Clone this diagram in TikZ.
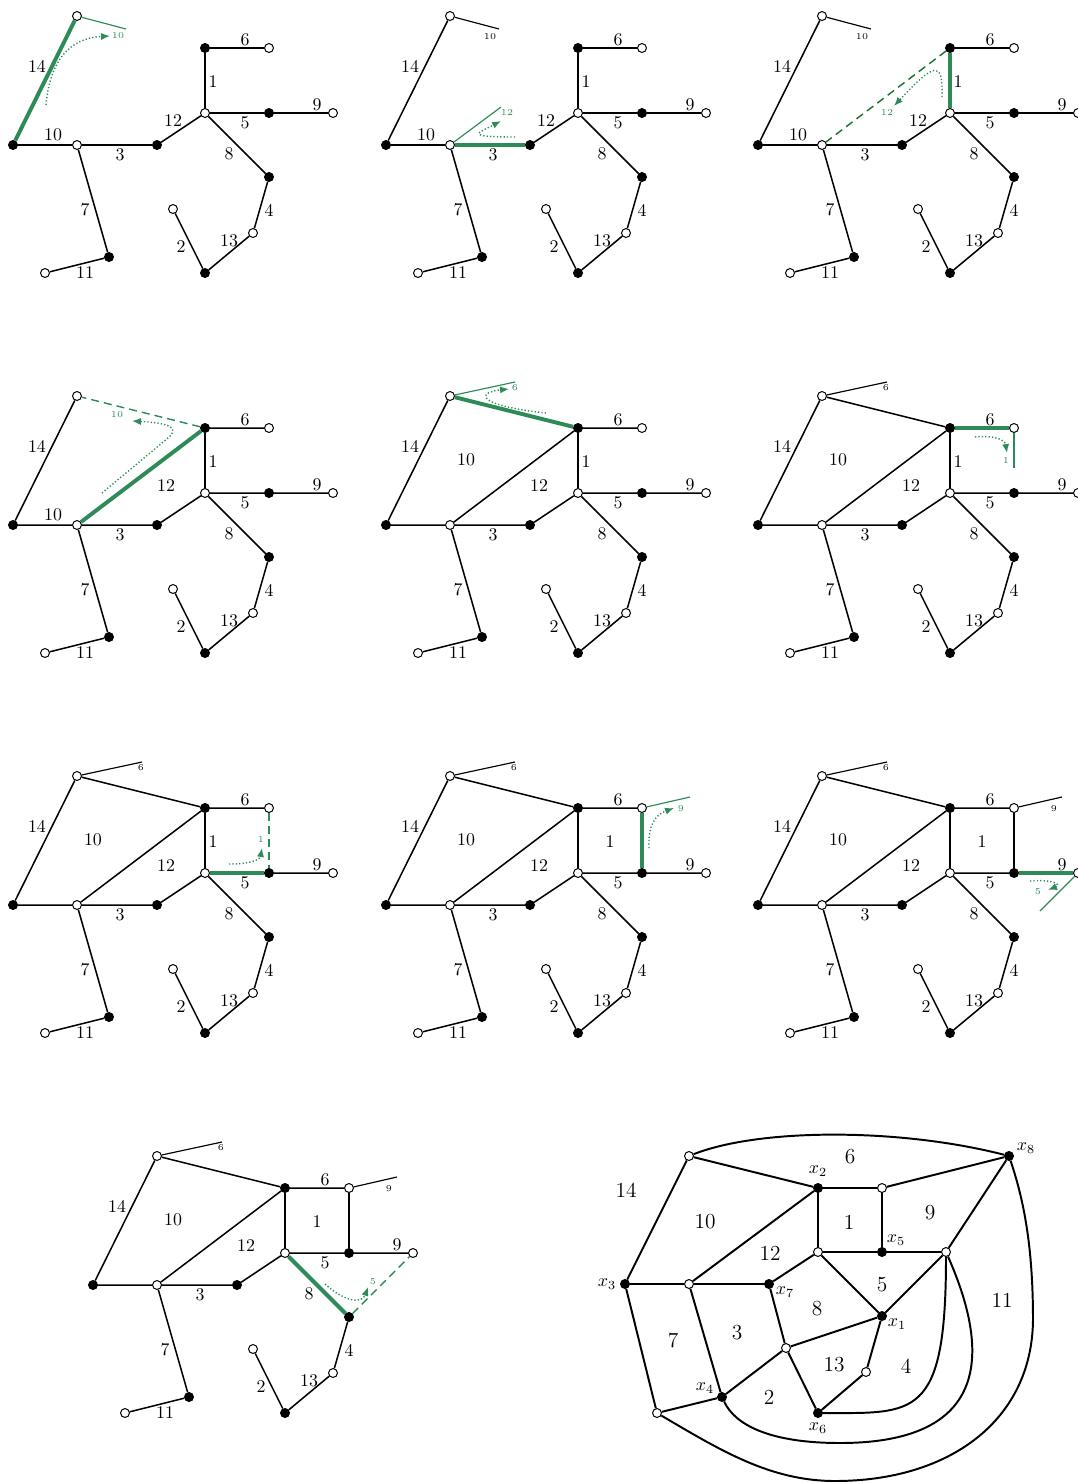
\documentclass[tikz,border=0pt]{standalone}
\usetikzlibrary{arrows.meta}
\definecolor{sg}{RGB}{46,139,87}
\definecolor{dg}{RGB}{25,115,45}
\newcommand\placetree{%
 \node[wn] (A) at (77,16) {};
 \node[bn] (B) at (13,145) {};
 \node[wn] (C) at (77,145) {};
 \node[bn] (D) at (157,145) {};
 \node[wn] (E) at (205,113) {};
 \node[bn] (F) at (205,48) {};
 \node[wn] (G) at (269,48) {};
 \node[bn] (H) at (269,113) {};
 \node[wn] (I) at (333,113) {};
 \node[bn] (J) at (269,177) {};
 \node[wn] (K) at (253,233) {};
 \node[bn] (L) at (205,273) {};
 \node[wn] (M) at (173,209) {};
 \node[bn] (N) at (109,257) {};
 \node[wn] (O) at (45,273) {};
 \draw[ed] (B)--(C) (D)--(E) (J)--(K) (K)--(L) (L)--(M) (C)--(N) (N)--(O);
}
\newcommand\lab[3]{\node[el] (l#3) at (#1,#2) {#3};}
\newcommand\commonlabels{\lab{37}{66}{14}\lab{120}{155}{3}\lab{245}{123}{5}\lab{317}{105}{9}%
 \lab{229}{154}{8}\lab{269}{210}{4}\lab{229}{241}{13}\lab{181}{247}{2}\lab{85}{210}{7}%
 \lab{85}{273}{11}\lab{245}{40}{6}}
\newcommand\edgeten{\lab{53}{135}{10}}
\newcommand\faceten{\lab{93}{80}{10}}
\newcommand\edgetwelve{\lab{173}{121}{12}}
\newcommand\facetwelve{\lab{166}{106}{12}}
\newcommand\edgeone{\lab{213}{82}{1}}
\newcommand\faceone{\lab{237}{82}{1}}
\newcommand\halfsix{\coordinate (h6) at (142,2); \draw[half] (A)--(h6); \node[tl] (t6) at (141,8) {6};}
\newcommand\halfnine{\coordinate (h9) at (317,37); \draw[half] (G)--(h9); \node[tl] (t9) at (309,49) {9};}
\begin{document}
\begin{tikzpicture}[x=0.56pt,y=-0.56pt,
 wn/.style={circle,draw,fill=white,inner sep=0pt,minimum size=5pt,line width=0.55pt},
 bn/.style={circle,draw,fill=black,inner sep=0pt,minimum size=5pt,line width=0.55pt},
 ed/.style={line width=0.85pt},
 hl/.style={line width=2.2pt,draw=sg},
 half/.style={line width=0.65pt},
 dsh/.style={line width=0.8pt,dash pattern=on 4.5pt off 2.8pt},
 mv/.style={color=sg,line width=0.8pt,dash pattern=on 0.7pt off 1.2pt,-{Latex[length=5pt,width=4pt]}},
 el/.style={inner sep=0pt,font=\normalsize},
 tl/.style={inner sep=0pt,font=\tiny},
 fl/.style={inner sep=0pt,font=\large},
 gl/.style={line width=1.1pt},
 ml/.style={inner sep=0pt,font=\normalsize},
]
\useasboundingbox (0,0) rectangle (1078,1482);

% ---- panel 1
\begin{scope}[shift={(0,0)},name prefix=a-]
 \placetree
 \draw[ed] (C)--(D) (F)--(E) (F)--(G) (E)--(H) (H)--(I) (E)--(J);
 \draw[hl] (A)--(B);
 \coordinate (h) at (126,29);
 \draw[half,sg] (A)--(h);
 \draw[mv] (46,105) .. controls (50,60) and (70,38) .. (110,36);
 \node[tl,sg] (t10) at (118,36) {10};
 \commonlabels\edgeten\edgetwelve\edgeone
\end{scope}

% ---- panel 2
\begin{scope}[shift={(373,0)},name prefix=b-]
 \placetree
 \draw[ed] (A)--(B) (F)--(E) (F)--(G) (E)--(H) (H)--(I) (E)--(J);
 \draw[hl] (C)--(D);
 \coordinate (h) at (126,29);
 \draw[half] (A)--(h);
 \node[tl] (t10) at (117,37) {10};
 \coordinate (h2) at (128,107);
 \draw[half,sg] (C)--(h2);
 \node[tl,sg] (t12) at (134,113) {12};
 \draw[mv] (142,137) .. controls (90,137) and (105,133) .. (128,121);
 \commonlabels\edgeten\edgetwelve\edgeone
\end{scope}

% ---- panel 3
\begin{scope}[shift={(745,0)},name prefix=c-]
 \placetree
 \draw[ed] (A)--(B) (C)--(D) (F)--(G) (E)--(H) (H)--(I) (E)--(J);
 \draw[hl] (F)--(E);
 \coordinate (h) at (126,29);
 \draw[half] (A)--(h);
 \node[tl] (t10) at (117,37) {10};
 \draw[dsh,dg] (F)--(C);
 \draw[mv] (197,97) .. controls (198,60) and (190,62) .. (149,106);
 \node[tl,sg] (t12) at (142,113) {12};
 \commonlabels\edgeten\edgetwelve\edgeone
\end{scope}

% ---- panel 4
\begin{scope}[shift={(0,380)},name prefix=d-]
 \placetree
 \draw[ed] (A)--(B) (C)--(D) (F)--(E) (F)--(G) (E)--(H) (H)--(I) (E)--(J);
 \draw[hl] (C)--(F);
 \draw[dsh,sg] (F)--(A);
 \draw[mv] (102,113) -- (168,58) .. controls (180,48) and (170,43) .. (132,41);
 \node[tl,sg] (t10) at (117,35) {10};
 \commonlabels\edgeten\facetwelve\edgeone
\end{scope}

% ---- panel 5
\begin{scope}[shift={(373,380)},name prefix=e-]
 \placetree
 \draw[ed] (A)--(B) (C)--(D) (F)--(E) (F)--(G) (E)--(H) (H)--(I) (E)--(J) (C)--(F);
 \draw[hl] (A)--(F);
 \coordinate (h6) at (142,2);
 \draw[half,sg] (A)--(h6);
 \node[tl,sg] (t6) at (142,8) {6};
 \draw[mv] (173,33) .. controls (100,25) and (105,12) .. (136,9);
 \commonlabels\faceten\facetwelve\edgeone
\end{scope}

% ---- panel 6
\begin{scope}[shift={(745,380)},name prefix=f-]
 \placetree
 \draw[ed] (A)--(B) (C)--(D) (F)--(E) (E)--(H) (H)--(I) (E)--(J) (C)--(F) (A)--(F);
 \draw[hl] (F)--(G);
 \halfsix
 \coordinate (g1) at (269,88);
 \draw[half,sg] (G)--(g1);
 \node[tl,sg] (t1) at (261,81) {1};
 \draw[mv] (230,57) .. controls (250,55) and (260,60) .. (262,73);
 \commonlabels\faceten\facetwelve\edgeone
\end{scope}

% ---- panel 7
\begin{scope}[shift={(0,760)},name prefix=g-]
 \placetree
 \draw[ed] (A)--(B) (C)--(D) (F)--(E) (F)--(G) (H)--(I) (E)--(J) (C)--(F) (A)--(F);
 \draw[hl] (E)--(H);
 \halfsix
 \draw[dsh,sg] (G)--(H);
 \draw[mv] (229,104) .. controls (250,104) and (260,100) .. (262,88);
 \node[tl,sg] (t1) at (261,80) {1};
 \commonlabels\faceten\facetwelve\edgeone
\end{scope}

% ---- panel 8
\begin{scope}[shift={(373,760)},name prefix=h-]
 \placetree
 \draw[ed] (A)--(B) (C)--(D) (F)--(E) (F)--(G) (E)--(H) (H)--(I) (E)--(J) (C)--(F) (A)--(F);
 \draw[hl] (G)--(H);
 \halfsix
 \coordinate (h9) at (317,37);
 \draw[half,sg] (G)--(h9);
 \node[tl,sg] (t9) at (308,49) {9};
 \draw[mv] (276,88) .. controls (275,65) and (282,55) .. (301,48);
 \commonlabels\faceten\facetwelve\faceone
\end{scope}

% ---- panel 9
\begin{scope}[shift={(745,760)},name prefix=i-]
 \placetree
 \draw[ed] (A)--(B) (C)--(D) (F)--(E) (F)--(G) (E)--(H) (G)--(H) (E)--(J) (C)--(F) (A)--(F);
 \draw[hl] (H)--(I);
 \halfsix\halfnine
 \coordinate (h5) at (295,151);
 \draw[half,sg] (I)--(h5);
 \node[tl,sg] (t5) at (293,132) {5};
 \draw[mv] (285,121) .. controls (305,119) and (318,124) .. (303,130);
 \commonlabels\faceten\facetwelve\faceone
\end{scope}

% ---- panel 10
\begin{scope}[shift={(80,1140)},name prefix=j-]
 \placetree
 \draw[ed] (A)--(B) (C)--(D) (F)--(E) (F)--(G) (E)--(H) (G)--(H) (H)--(I) (C)--(F) (A)--(F);
 \draw[hl] (E)--(J);
 \halfsix\halfnine
 \draw[dsh,sg] (J)--(I);
 \draw[mv] (245,144) .. controls (265,162) and (282,164) .. (288,147);
 \node[tl,sg] (t5) at (293,142) {5};
 \commonlabels\faceten\facetwelve\faceone
\end{scope}

% ---- final graph
\begin{scope}[name prefix=k-]
 \node[wn] (P) at (689,1156) {};
 \node[bn] (x8) at (1009,1156) {};
 \node[bn] (x2) at (818,1188) {};
 \node[wn] (Q) at (882,1188) {};
 \node[wn] (R) at (818,1252) {};
 \node[bn] (x5) at (882,1252) {};
 \node[wn] (S) at (946,1252) {};
 \node[bn] (x3) at (625,1284) {};
 \node[wn] (T) at (689,1284) {};
 \node[bn] (x7) at (769,1284) {};
 \node[bn] (x1) at (882,1316) {};
 \node[wn] (U) at (786,1348) {};
 \node[wn] (V) at (866,1372) {};
 \node[bn] (x4) at (722,1397) {};
 \node[wn] (W) at (657,1413) {};
 \node[bn] (x6) at (818,1413) {};
 \draw[gl] (P)--(x2) (x2)--(Q) (Q)--(x8) (P)--(x3) (x2)--(R) (Q)--(x5)
   (R)--(x5) (x5)--(S) (S)--(x8) (x2)--(T) (x3)--(T) (T)--(x7) (x7)--(R)
   (R)--(x1) (S)--(x1) (x7)--(U) (U)--(x1) (U)--(x4) (U)--(x6) (x1)--(V)
   (V)--(x6) (x3)--(W) (T)--(x4) (W)--(x4);
 \draw[gl] (P) .. controls (760,1128) and (900,1128) .. (x8);
 \draw[gl] (S) .. controls (946,1420) and (915,1413) .. (x6);
 \coordinate (m1) at (840,1443);
 \draw[gl] (S) .. controls (985,1340) and (1000,1443) .. (m1)
   .. controls (770,1443) and (735,1425) .. (x4);
 \coordinate (m2) at (835,1481);
 \coordinate (m3) at (1033,1320);
 \draw[gl] (W) .. controls (720,1450) and (770,1481) .. (m2)
   .. controls (950,1481) and (1032,1420) .. (m3)
   .. controls (1033,1240) and (1022,1195) .. (x8);
 \node[fl] (f6) at (850,1157) {6};
 \node[fl] (f14) at (626,1190) {14};
 \node[fl] (f10) at (705,1222) {10};
 \node[fl] (f1) at (849,1222) {1};
 \node[fl] (f9) at (930,1213) {9};
 \node[fl] (f12) at (770,1253) {12};
 \node[fl] (f5) at (882,1285) {5};
 \node[fl] (f11) at (1002,1300) {11};
 \node[fl] (f8) at (817,1309) {8};
 \node[fl] (f7) at (673,1340) {7};
 \node[fl] (f3) at (737,1333) {3};
 \node[fl] (f13) at (834,1365) {13};
 \node[fl] (f4) at (906,1366) {4};
 \node[fl] (f2) at (769,1397) {2};
 \node[ml] (n2) at (818,1171) {$x_2$};
 \node[ml] (n8) at (1026,1148) {$x_8$};
 \node[ml] (n5) at (896,1240) {$x_5$};
 \node[ml] (n3) at (607,1284) {$x_3$};
 \node[ml] (n7) at (785,1292) {$x_7$};
 \node[ml] (n1) at (897,1324) {$x_1$};
 \node[ml] (n4) at (705,1388) {$x_4$};
 \node[ml] (n6) at (818,1428) {$x_6$};
\end{scope}
\end{tikzpicture}
\end{document}
